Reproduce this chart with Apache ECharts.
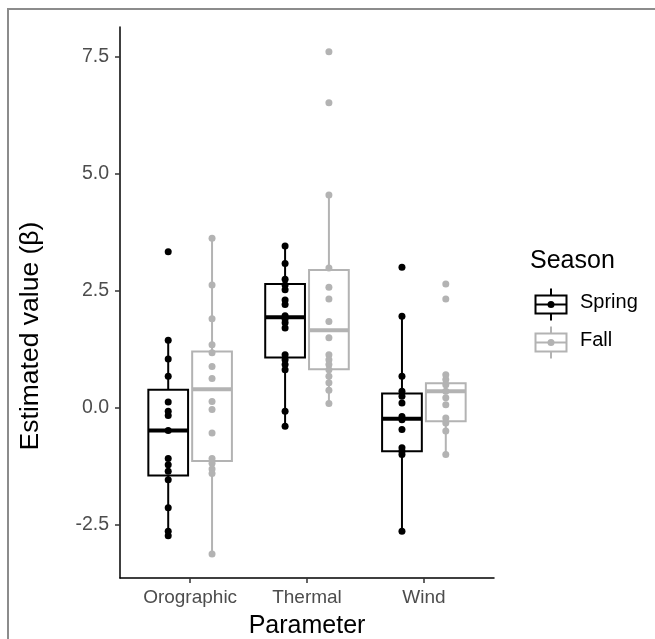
<!DOCTYPE html>
<html>
<head>
<meta charset="utf-8">
<script src="https://cdn.jsdelivr.net/npm/echarts@6/dist/echarts.min.js"></script>
<style>
  html, body { margin: 0; padding: 0; background: #fff; }
  #frame { position: absolute; left: 7px; top: 8px; width: 660px; height: 640px;
           border-top: 2px solid #8c8c8c; border-left: 2px solid #8c8c8c; }
  #chart { position: absolute; left: 0; top: 0; width: 655px; height: 639px; }
</style>
</head>
<body>
<div id="frame"></div>
<div id="chart"></div>
<script>
// categories and groups
const categories = ['Orographic', 'Thermal', 'Wind']
const seasons = ['Spring', 'Fall']
const yTicks = [-2.5, 0, 2.5, 5, 7.5]

// box stats: [low whisker, Q1, median, Q3, high whisker]
const springBoxes = [
  [-2.74, -1.45, -0.49, 0.38, 1.44],
  [-0.40, 1.07, 1.93, 2.64, 3.44],
  [-2.64, -0.93, -0.24, 0.30, 1.95]
]
const fallBoxes = [
  [-3.13, -1.14, 0.39, 1.20, 3.62],
  [0.09, 0.82, 1.65, 2.94, 4.54],
  [-1.00, -0.29, 0.35, 0.52, 0.70]
]

// individual estimates (one array per parameter)
const springOrographic = [3.33, 1.44, 1.04, 0.67, 0.12, -0.08, -0.17, -0.49, -1.09, -1.22, -1.36, -1.54, -2.14, -2.64, -2.74]
const springThermal = [3.45, 3.08, 2.74, 2.62, 2.52, 2.30, 2.20, 1.96, 1.89, 1.81, 1.70, 1.13, 1.02, 0.92, 0.81, -0.08, -0.40]
const springWind = [3.00, 1.95, 0.67, 0.35, 0.24, 0.10, -0.19, -0.26, -0.47, -0.86, -0.93, -1.00, -2.64]
const fallOrographic = [3.62, 2.62, 1.90, 1.34, 1.17, 0.88, 0.62, 0.13, -0.04, -0.54, -1.09, -1.19, -1.31, -1.41, -3.13]
const fallThermal = [7.60, 6.51, 4.54, 2.98, 2.57, 2.32, 1.84, 1.49, 1.13, 1.02, 0.92, 0.81, 0.67, 0.53, 0.37, 0.09]
const fallWind = [2.64, 2.32, 0.70, 0.60, 0.49, 0.35, 0.21, 0.06, -0.22, -0.33, -0.50, -1.00]

const springPoints = [springOrographic, springThermal, springWind]
const fallPoints = [fallOrographic, fallThermal, fallWind]

const SPRING = '#000000'
const FALL = '#b3b3b3'
const FONT = 'Liberation Sans, Arial, sans-serif'
const dodge = 0.1875
const halfW = 0.17

// 1.init
const myChart = echarts.init(document.getElementById('chart'))

// box + whiskers drawn through the axes
const renderBox = (color) => (params, api) => {
  const x = api.value(0)
  const lo = api.coord([x, api.value(1)])
  const q1L = api.coord([x - halfW, api.value(2)])
  const q1R = api.coord([x + halfW, api.value(2)])
  const medL = api.coord([x - halfW, api.value(3)])
  const medR = api.coord([x + halfW, api.value(3)])
  const q3L = api.coord([x - halfW, api.value(4)])
  const hi = api.coord([x, api.value(5)])
  const line = { stroke: color, lineWidth: 2, fill: null }
  return {
    type: 'group',
    children: [
      { type: 'line', shape: { x1: lo[0], y1: lo[1], x2: lo[0], y2: q1L[1] }, style: line },
      { type: 'line', shape: { x1: hi[0], y1: hi[1], x2: hi[0], y2: q3L[1] }, style: line },
      { type: 'rect', shape: { x: q3L[0], y: q3L[1], width: q1R[0] - q1L[0], height: q1L[1] - q3L[1] },
        style: { stroke: color, lineWidth: 2, fill: '#fff' } },
      { type: 'line', shape: { x1: medL[0], y1: medL[1], x2: medR[0], y2: medR[1] },
        style: { stroke: color, lineWidth: 4 } }
    ]
  }
}

const boxData = (boxes, off) => boxes.map((b, i) => [i + 1 + off].concat(b))
const pointData = (groups, off) => {
  const out = []
  groups.forEach((vals, i) => vals.forEach((v) => out.push([i + 1 + off, v])))
  return out
}

// little legend key: whisker, box, median and dot
const legendKey = (top, color) => ({
  type: 'group', left: 533, top: top, children: [
    { type: 'line', shape: { x1: 15.5, y1: 0, x2: 15.5, y2: 32 }, style: { stroke: color, lineWidth: 2 } },
    { type: 'rect', shape: { x: 0, y: 7, width: 31, height: 18 }, style: { stroke: color, lineWidth: 2, fill: '#fff' } },
    { type: 'line', shape: { x1: 0, y1: 16, x2: 31, y2: 16 }, style: { stroke: color, lineWidth: 2 } },
    { type: 'circle', shape: { cx: 15.5, cy: 16, r: 3.5 }, style: { fill: color } }
  ]
})

// 2.options
const options = {
  animation: false,
  textStyle: { fontFamily: FONT },
  grid: { left: 120, right: 161, top: 27, bottom: 61, containLabel: false, outerBoundsMode: 'none' },
  xAxis: {
    type: 'value',
    min: 0.4,
    max: 3.6,
    name: 'Parameter',
    nameLocation: 'middle',
    nameGap: 36,
    nameTextStyle: { fontSize: 25, color: '#000' },
    splitLine: { show: false },
    axisLine: { onZero: false, lineStyle: { color: '#000', width: 1.5 } },
    axisTick: { customValues: [1, 2, 3], length: 5, lineStyle: { color: '#333', width: 1.5 } },
    axisLabel: {
      customValues: [1, 2, 3],
      formatter: (v) => categories[Math.round(v) - 1],
      fontSize: 19,
      color: '#4d4d4d',
      margin: 10
    }
  },
  yAxis: {
    type: 'value',
    min: -3.64,
    max: 8.13,
    splitLine: { show: false },
    axisLine: { show: true, onZero: false, lineStyle: { color: '#000', width: 1.5 } },
    axisTick: { show: true, customValues: yTicks, length: 5, lineStyle: { color: '#333', width: 1.5 } },
    axisLabel: {
      customValues: yTicks,
      formatter: (v) => v.toFixed(1),
      fontSize: 19.5,
      color: '#4d4d4d',
      margin: 11
    }
  },
  series: [
    { type: 'custom', name: 'Spring', renderItem: renderBox(SPRING), data: boxData(springBoxes, -dodge), z: 2,
      encode: { x: 0, y: [1, 2, 3, 4, 5] } },
    { type: 'custom', name: 'Fall', renderItem: renderBox(FALL), data: boxData(fallBoxes, dodge), z: 2,
      encode: { x: 0, y: [1, 2, 3, 4, 5] } },
    { type: 'scatter', name: 'Spring', data: pointData(springPoints, -dodge), symbolSize: 7,
      itemStyle: { color: SPRING, opacity: 1 }, z: 3 },
    { type: 'scatter', name: 'Fall', data: pointData(fallPoints, dodge), symbolSize: 7,
      itemStyle: { color: FALL, opacity: 1 }, z: 3 }
  ],
  graphic: [
    // y axis title
    { type: 'text', x: 31, y: 336, rotation: Math.PI / 2,
      style: { text: 'Estimated value (β)', fontSize: 26.5, fill: '#000', fontFamily: FONT, align: 'center', verticalAlign: 'middle' } },
    // legend
    { type: 'text', left: 530, top: 249, style: { text: 'Season', fontSize: 25, fill: '#000', fontFamily: FONT } },
    legendKey(286, SPRING),
    { type: 'text', left: 580, top: 292, style: { text: 'Spring', fontSize: 20, fill: '#000', fontFamily: FONT } },
    legendKey(324, FALL),
    { type: 'text', left: 580, top: 330, style: { text: 'Fall', fontSize: 20, fill: '#000', fontFamily: FONT } }
  ]
}

// 3.render
myChart.setOption(options)
</script>
</body>
</html>
